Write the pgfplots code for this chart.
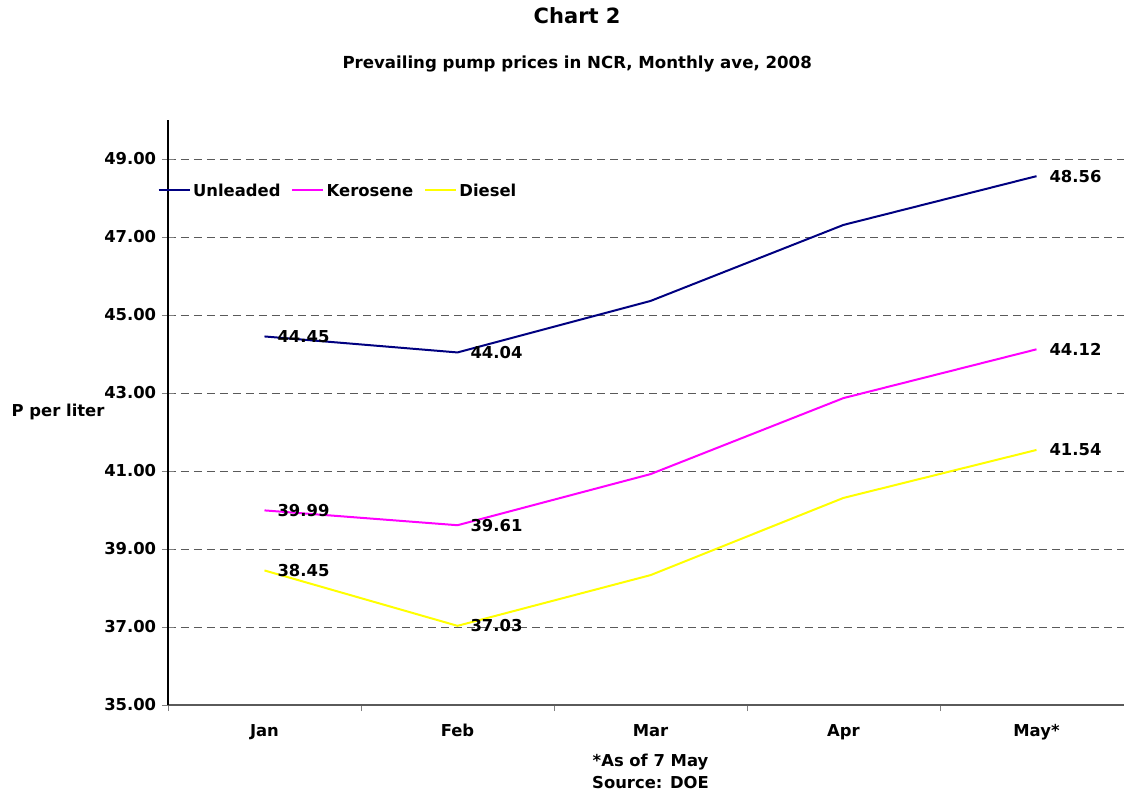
\documentclass[border=0pt]{standalone}
\usepackage{fontspec}
\setmainfont{DejaVu Sans}
\usepackage{pgfplots}
\pgfplotsset{compat=1.18}

\definecolor{unleaded}{HTML}{000080}
\definecolor{kerosene}{HTML}{FF00FF}
\definecolor{diesel}{HTML}{FFFF00}
\definecolor{gridgray}{HTML}{5A5A5A}

\begin{document}
\fontsize{8.2}{11}\selectfont\bfseries
\begin{tikzpicture}
\begin{axis}[
    scale only axis,
    width=482.5pt, height=292.5pt,
    xmin=-0.5, xmax=4.5,
    ymin=35, ymax=50,
    clip=false,
    axis x line=bottom, axis y line=left,
    axis line style={-, line width=0.6pt},
    x axis line style={gridgray},
    xtick={0,1,2,3,4},
    xticklabels={Jan,Feb,Mar,Apr,May*},
    minor xtick={-0.5,0.5,1.5,2.5,3.5,4.5},
    major x tick style={draw=none},
    minor tick length=3pt,
    xtick align=outside,
    xticklabel style={text height=1.6ex, text depth=0.3ex, yshift=0.5pt},
    ytick={35,37,...,49},
    ytick align=center,
    major tick length=6pt,
    yticklabel style={/pgf/number format/fixed,
        /pgf/number format/fixed zerofill,
        /pgf/number format/precision=2,
        /pgf/number format/assume math mode=true},
    ymajorgrids,
    major grid style={dash pattern=on 4pt off 2.5pt, gridgray, line width=0.5pt},
    ylabel={P per liter},
    ylabel style={rotate=-90, anchor=west, at={(axis description cs:-0.168,0.5009)}},
    xlabel={*As of 7 May\\Source: DOE},
    xlabel style={align=center, anchor=center, at={(axis description cs:0.5,-0.113)}},
    legend style={at={(axis description cs:-0.0175,0.880)}, anchor=west,
        draw=none, fill=none, legend columns=-1,
        nodes={inner xsep=1.3pt, text height=1.6ex, text depth=0.3ex},
        /tikz/every even column/.append style={column sep=4pt}},
    legend image code/.code={\draw[#1] (0pt,0pt) -- (15.5pt,0pt);},
    nodes near coords,
    point meta=explicit symbolic,
    every node near coord/.append style={anchor=west, xshift=3.3pt, text=black,
        font=\fontsize{8.2}{10}\selectfont\bfseries},
]
\addplot[unleaded, line width=1pt] coordinates {
    (0,44.45) [44.45] (1,44.04) [44.04] (2,45.36) [] (3,47.31) [] (4,48.56) [48.56]
};
\addlegendentry{Unleaded}
\addplot[kerosene, line width=1pt] coordinates {
    (0,39.99) [39.99] (1,39.61) [39.61] (2,40.92) [] (3,42.87) [] (4,44.12) [44.12]
};
\addlegendentry{Kerosene}
\addplot[diesel, line width=1pt] coordinates {
    (0,38.45) [38.45] (1,37.03) [37.03] (2,38.33) [] (3,40.31) [] (4,41.54) [41.54]
};
\addlegendentry{Diesel}

\node[font=\fontsize{10.5}{12}\selectfont\bfseries] at (axis description cs:0.424,1.178) {Chart 2};
\node[font=\fontsize{8.3}{10}\selectfont\bfseries] at (axis description cs:0.424,1.096) {Prevailing pump prices in NCR, Monthly ave, 2008};
\end{axis}
\pgfresetboundingbox
\path[use as bounding box] (-84pt,-44.5pt) rectangle (478pt,352.5pt);
\end{tikzpicture}
\end{document}
